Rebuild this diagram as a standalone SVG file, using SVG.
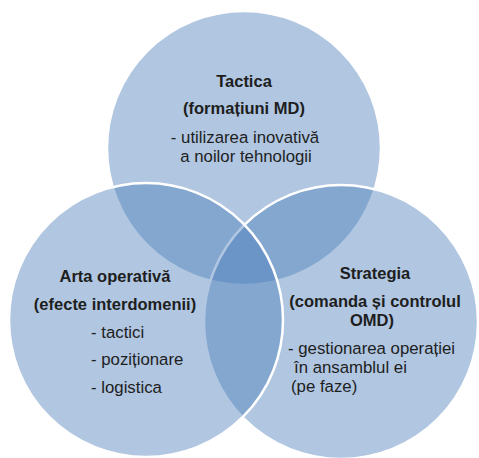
<svg xmlns="http://www.w3.org/2000/svg" width="479" height="458" viewBox="0 0 479 458">
<style>
.c{fill:#4F81BD;fill-opacity:0.45;stroke:#FFFFFF;stroke-width:2.5}
text{font-family:"Liberation Sans",Arial,sans-serif;font-size:16.8px;fill:#1e1e1e}
.b{font-weight:bold;font-size:16.5px}
.m{text-anchor:middle}
</style>
<rect width="479" height="458" fill="#FFFFFF"/>
<g id="tactica">
<circle class="c" cx="244" cy="148" r="137"/>
</g>
<g id="strategia">
<circle class="c" cx="341" cy="322" r="137"/>
</g>
<g id="arta">
<circle class="c" cx="146" cy="320" r="137"/>
</g>
<g id="connectors"></g>
<g id="labels-tactica">
<text class="b m" x="244" y="87">Tactica</text>
<text class="b m" x="244" y="114">(formațiuni MD)</text>
<text class="m" x="245" y="143">- utilizarea inovativă</text>
<text class="m" x="246" y="162">a noilor tehnologii</text>
</g>
<g id="labels-arta">
<text class="b m" x="115" y="282">Arta operativă</text>
<text class="b m" x="115" y="310">(efecte interdomenii)</text>
<text x="91" y="338">- tactici</text>
<text x="91" y="365">- poziționare</text>
<text x="91" y="393">- logistica</text>
</g>
<g id="labels-strategia">
<text class="b m" x="375" y="279">Strategia</text>
<text class="b m" x="375" y="307">(comanda și controlul</text>
<text class="b m" x="372" y="326">OMD)</text>
<text x="288" y="354">- gestionarea operației</text>
<text x="294" y="373">în ansamblul ei</text>
<text x="291" y="392">(pe faze)</text>
</g>
</svg>
